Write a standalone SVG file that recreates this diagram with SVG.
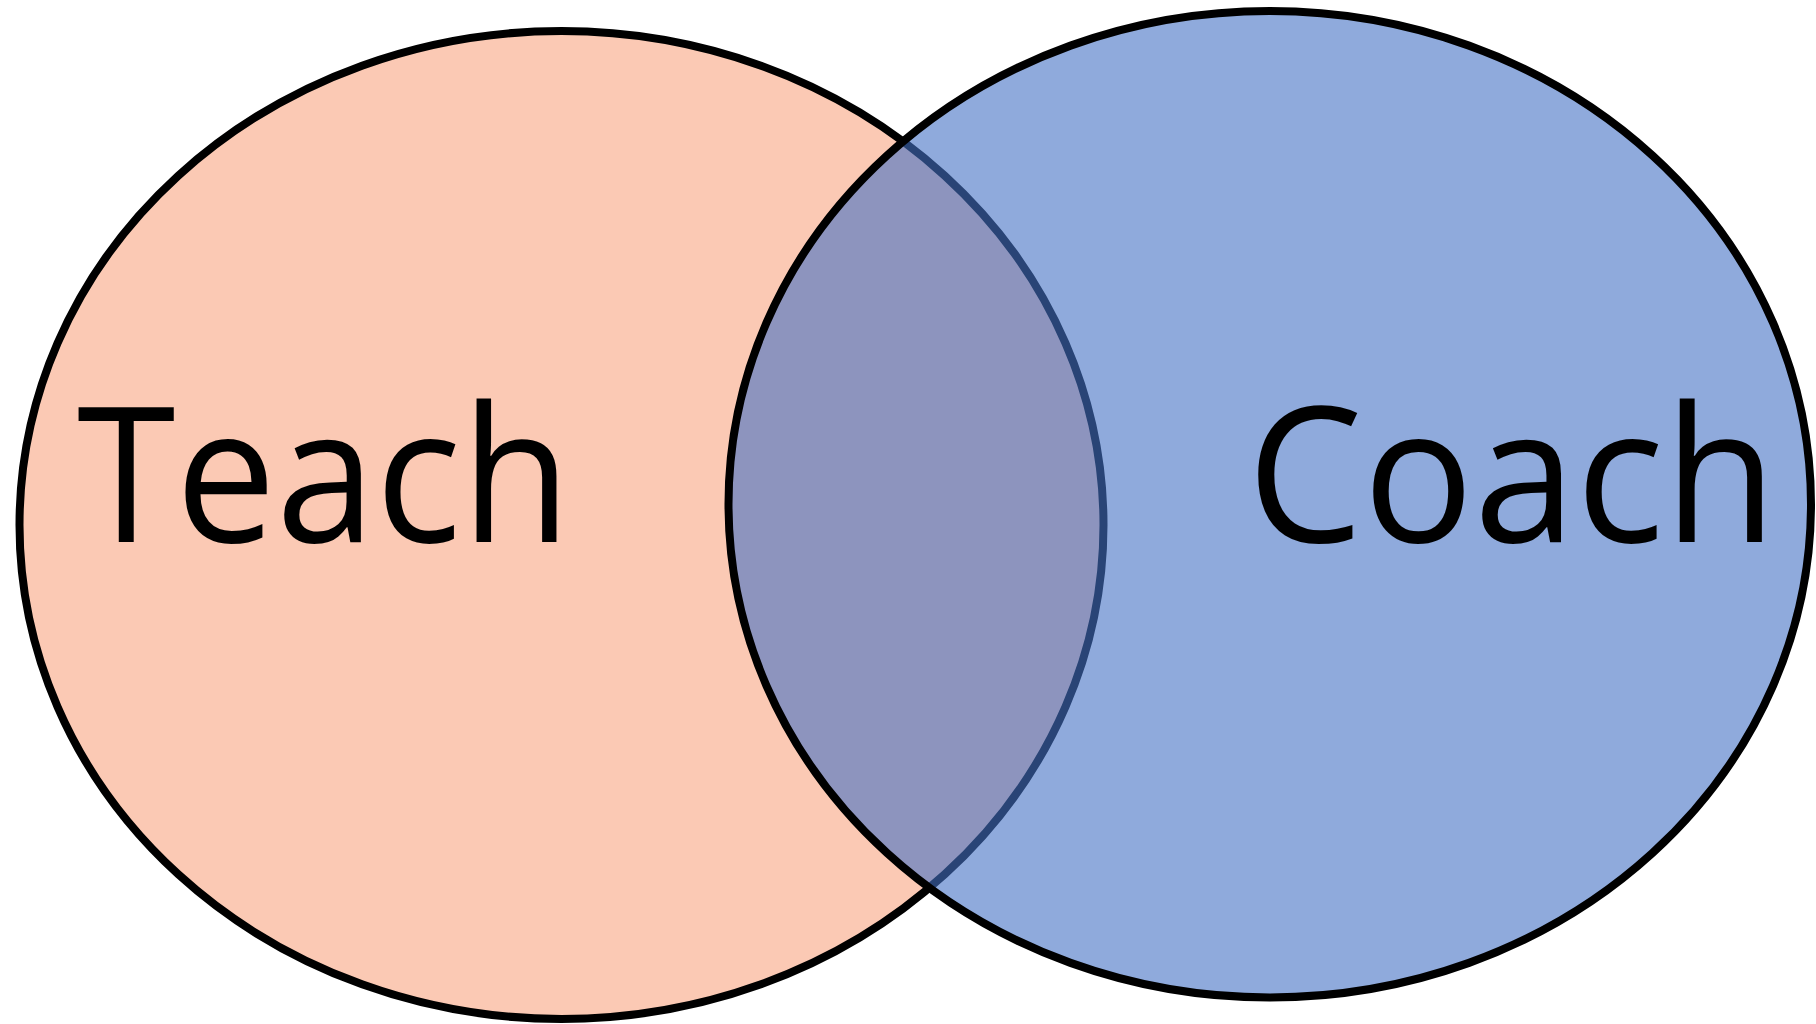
<svg xmlns="http://www.w3.org/2000/svg" width="1816" height="1024" viewBox="0 0 1816 1024">
<style>
.ring{stroke:#000;stroke-width:8}
.lbl{font-family:"Open Sans","Noto Sans","Liberation Sans",sans-serif;font-size:189px;fill:#000}
</style>
<rect width="1816" height="1024" fill="#fff"/>
<g id="teach">
<ellipse class="ring" cx="561.5" cy="525" rx="542" ry="494" fill="#FBC9B4"/>
<text class="lbl" x="77" y="542" textLength="494" lengthAdjust="spacingAndGlyphs">Teach</text>
</g>
<g id="coach">
<ellipse class="ring" cx="1269.75" cy="504.25" rx="541.25" ry="493.25" fill="#4472C4" fill-opacity="0.6"/>
<text class="lbl" x="1247" y="542" textLength="530" lengthAdjust="spacingAndGlyphs">Coach</text>
</g>
<g id="connectors"></g>
</svg>
